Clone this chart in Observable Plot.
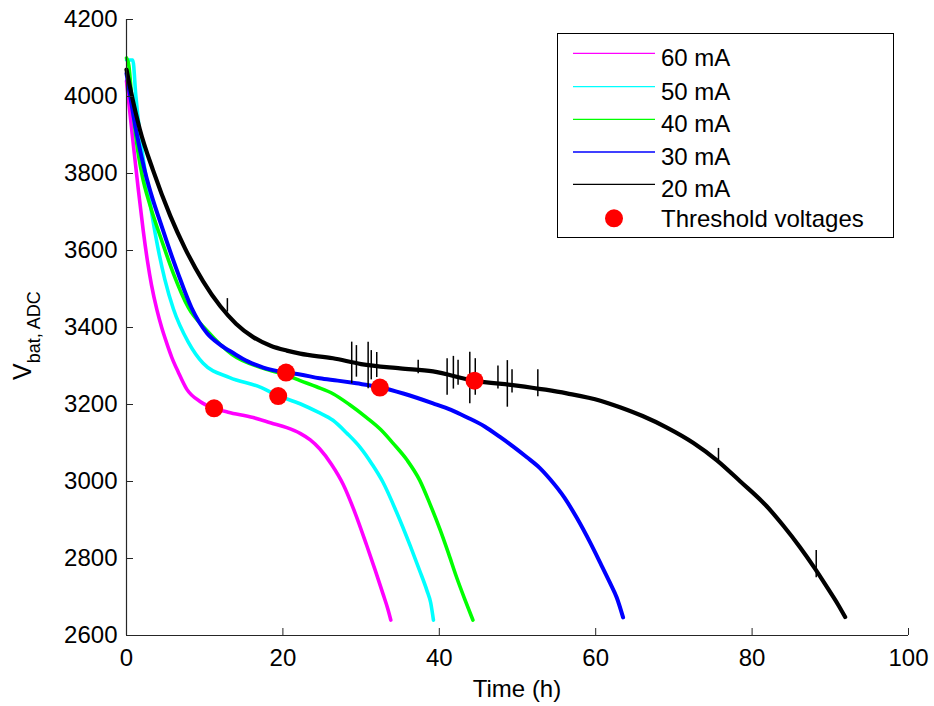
<!DOCTYPE html>
<html><head><meta charset="utf-8">
<script src="https://cdn.jsdelivr.net/npm/d3@7"></script>
<script src="https://cdn.jsdelivr.net/npm/@observablehq/plot@0.6"></script>
<style>
body{margin:0;background:#fff;}
#chart svg{font-family:"Liberation Sans",Arial,Helvetica,sans-serif;}
</style></head><body><div id="chart"></div>
<script>
// ---- data ----
const xTicks = [0, 20, 40, 60, 80, 100];
const yTicks = [2600, 2800, 3000, 3200, 3400, 3600, 3800, 4000, 4200];

const t60 = [0, 0.9, 1.5, 2.15, 2.7, 3.2, 3.9, 4.5, 5.1, 5.8, 6.6, 7.7, 9.4, 11.2, 13, 16.2, 18.5, 20.5, 22.2, 23.5, 24.7, 26.2, 27.7, 29.2, 30.7, 31.8, 32.8, 33.4, 33.8];
const v60 = [4040, 3870, 3760, 3650, 3570, 3510, 3445, 3400, 3362, 3322, 3285, 3240, 3208, 3190, 3180, 3166, 3152, 3140, 3125, 3108, 3085, 3045, 2993, 2920, 2835, 2770, 2708, 2670, 2640];

const t50 = [0, 0.8, 1.2, 1.7, 2.5, 3.2, 3.8, 4.9, 6.0, 7.9, 9.8, 13.2, 17.1, 19.4, 22.2, 24.5, 26.4, 28.2, 29.9, 31.4, 32.8, 34.5, 36.3, 37.5, 38.4, 38.9, 39.25];
const v50 = [4095, 4095, 4000, 3904, 3790, 3700, 3630, 3525, 3448, 3362, 3307, 3270, 3245, 3223, 3202, 3180, 3159, 3125, 3088, 3045, 2998, 2922, 2832, 2768, 2718, 2685, 2640];

const t40 = [0, 0.3, 0.7, 1.3, 2.0, 3.0, 4.5, 6.0, 7.9, 10.3, 13.5, 17.5, 20.5, 22.2, 24.3, 26.4, 28.5, 30.7, 32.5, 34.1, 35.9, 37.5, 38.8, 40.1, 41.2, 42.2, 43.3, 44.3];
const v40 = [4100, 4080, 3990, 3880, 3795, 3718, 3626, 3540, 3452, 3392, 3330, 3294, 3276, 3262, 3246, 3228, 3200, 3166, 3135, 3099, 3055, 3003, 2942, 2875, 2812, 2752, 2692, 2640];

const t30 = [0, 0.4, 1.3, 2.3, 3.4, 4.3, 5.1, 6.6, 8.3, 10.3, 12, 13.7, 15.5, 17.5, 20.4, 22.2, 24.7, 27, 29.4, 32.4, 35.5, 39.2, 41.5, 43.5, 45.8, 47.8, 49.5, 51.2, 52.8, 54.2, 56, 57.6, 59.2, 60.6, 61.8, 62.7, 63.5];
const v30 = [4060, 4010, 3904, 3810, 3730, 3675, 3626, 3540, 3452, 3385, 3355, 3333, 3312, 3296, 3283, 3278, 3268, 3262, 3255, 3245, 3228, 3203, 3186, 3167, 3143, 3115, 3090, 3063, 3036, 3005, 2958, 2905, 2845, 2788, 2738, 2698, 2647];

const t20 = [0, 0.6, 1.7, 3.4, 5.6, 7.5, 9.8, 12, 14, 16.2, 18.5, 20.5, 22.2, 26.4, 30, 35, 39.2, 44.4, 49.9, 56.3, 60.6, 63.1, 66, 69.1, 72.5, 75.5, 78.5, 81.9, 84, 86.1, 88, 89.6, 91, 91.9];
const v20 = [4070, 4010, 3915, 3808, 3690, 3605, 3520, 3455, 3410, 3375, 3352, 3340, 3332, 3320, 3305, 3294, 3286, 3262, 3249, 3229, 3210, 3193, 3170, 3140, 3100, 3055, 3000, 2935, 2885, 2830, 2775, 2725, 2680, 2648];

// noise spikes on the 20 mA trace
const spikeT  = [12.9, 28.8, 29.4, 30.9, 31.3, 32.0, 37.3, 41.0, 41.8, 42.4, 43.9, 44.6, 47.5, 48.7, 49.3, 52.6, 75.7, 88.2];
const spikeLo = [3440, 3254, 3271, 3241, 3264, 3270, 3280, 3224, 3240, 3250, 3202, 3224, 3240, 3193, 3230, 3220, 3050, 2750];
const spikeHi = [3475, 3362, 3353, 3362, 3340, 3335, 3315, 3319, 3325, 3315, 3336, 3319, 3300, 3314, 3290, 3290, 3086, 2821];

const thrT = [11.2, 19.4, 20.4, 32.4, 44.5];
const thrV = [3190, 3222, 3283, 3244, 3262];

const names  = ["60 mA", "50 mA", "40 mA", "30 mA", "20 mA"];
const colors = ["#ff00ff", "#00ffff", "#00ff00", "#0000ff", "#000000"];
const times  = [t60, t50, t40, t30, t20];
const volts  = [v60, v50, v40, v30, v20];
const widths = [3.6, 3.6, 3.6, 4, 4.2];

// ---- build ----
const series = names.map((n, k) => times[k].map((t, i) => ({name: n, t, v: volts[k][i]})));
const spikes = spikeT.map((t, i) => ({t, lo: spikeLo[i], hi: spikeHi[i]}));
const thr = thrT.map((t, i) => ({t, v: thrV[i]}));

const W = 934, H = 706, ML = 126, MR = 26, MT = 19, MB = 71;
const IW = W - ML - MR, IH = H - MT - MB;
const AX = "#262626";
const FONT = "Liberation Sans, Arial, Helvetica, sans-serif";

const plot = Plot.plot({
  width: W, height: H,
  marginLeft: ML, marginRight: MR, marginTop: MT, marginBottom: MB,
  style: {fontFamily: FONT, fontSize: "24px", color: "#000", background: "#fff", overflow: "visible"},
  x: {domain: [0, 100]},
  y: {domain: [2600, 4200]},
  marks: [
    ...series.map((s, k) => Plot.line(s, {x: "t", y: "v", curve: "monotone-x", stroke: colors[k], strokeWidth: widths[k], strokeLinejoin: "round"})),
    Plot.ruleX(spikes, {x: "t", y1: "lo", y2: "hi", stroke: "#000", strokeWidth: 1.5}),
    Plot.dot(thr, {x: "t", y: "v", r: 9, fill: "#ff0000", stroke: "none"}),
    Plot.ruleX(xTicks, {stroke: AX, strokeWidth: 1, insetTop: IH - 7}),
    Plot.ruleY(yTicks, {stroke: AX, strokeWidth: 1, insetRight: IW - 7}),
    Plot.ruleX([0], {stroke: AX, strokeWidth: 1.2}),
    Plot.ruleY([2600], {stroke: AX, strokeWidth: 1.2}),
    Plot.axisX(xTicks, {tickSize: 0, tickPadding: 13, label: null, fontSize: 24, fill: "#000", tickFormat: d => String(d)}),
    Plot.axisY(yTicks, {tickSize: 0, tickPadding: 9, label: null, fontSize: 24, fill: "#000", tickFormat: d => String(d)})
  ]
});
document.getElementById("chart").appendChild(plot);

const svg = d3.select(plot);
// x label
svg.append("text").attr("x", ML + IW / 2).attr("y", 697).attr("text-anchor", "middle")
  .attr("font-size", 24).attr("font-family", FONT).attr("fill", "#000").text("Time (h)");
// y label with subscript
const yl = svg.append("text").attr("transform", "translate(31,380) rotate(-90)")
  .attr("text-anchor", "start").attr("font-family", FONT).attr("fill", "#000");
yl.append("tspan").attr("font-size", 25).text("V");
yl.append("tspan").attr("font-size", 18).attr("dy", 9).text("bat, ADC");

// legend
const lg = svg.append("g").attr("text-anchor", "start");
lg.append("rect").attr("x", 557.5).attr("y", 33.5).attr("width", 336).attr("height", 204)
  .attr("fill", "#fff").attr("stroke", "#000").attr("stroke-width", 1);
const rowY = [53.3, 86.7, 119.3, 152, 184.3];
names.forEach((n, k) => {
  lg.append("line").attr("x1", 573).attr("x2", 655).attr("y1", rowY[k]).attr("y2", rowY[k])
    .attr("stroke", colors[k]).attr("stroke-width", 1.3);
  lg.append("text").attr("x", 661).attr("y", rowY[k] + 13).attr("font-size", 24)
    .attr("font-family", FONT).attr("fill", "#000").text(n);
});
lg.append("circle").attr("cx", 614).attr("cy", 218.3).attr("r", 9).attr("fill", "#ff0000");
lg.append("text").attr("x", 661).attr("y", 218.3 + 9).attr("font-size", 24)
  .attr("font-family", FONT).attr("fill", "#000").text("Threshold voltages");
</script></body></html>
